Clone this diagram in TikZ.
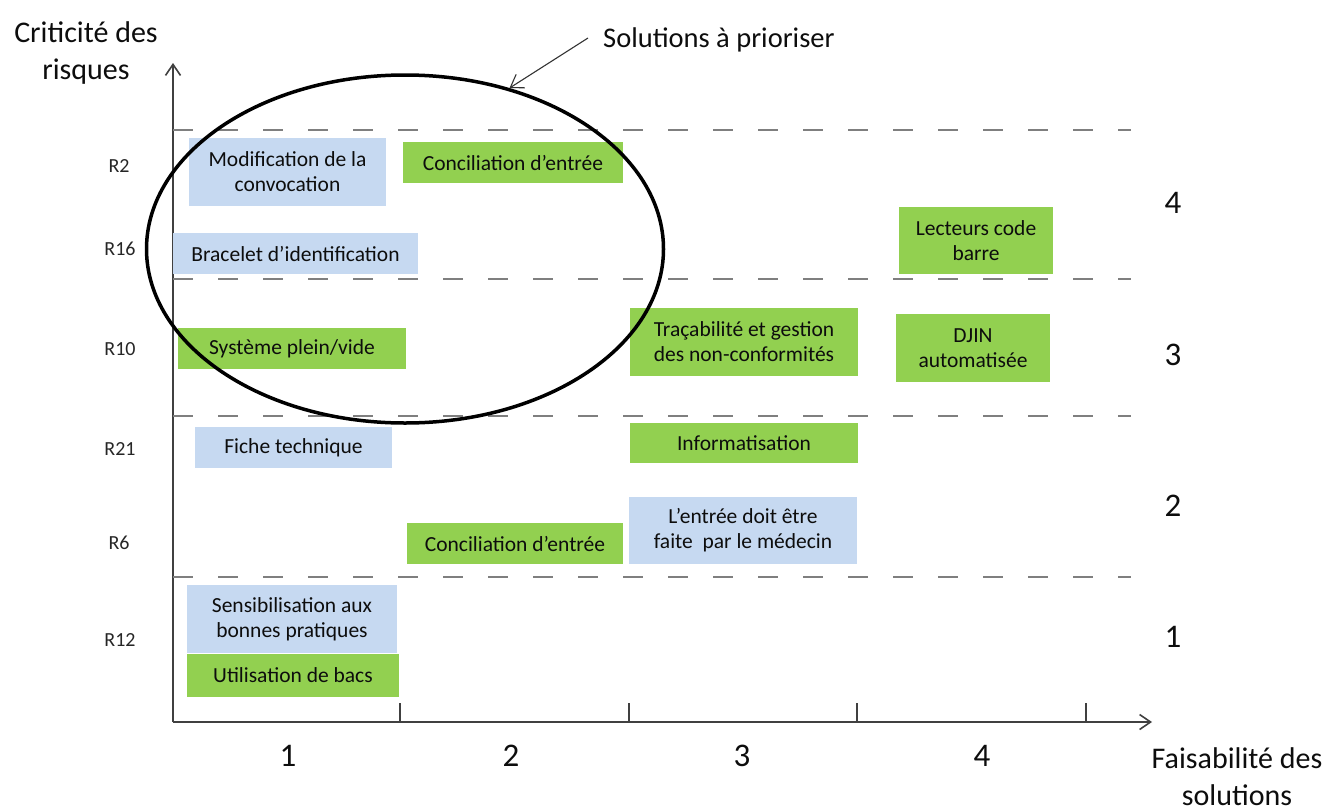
\documentclass[tikz,border=0pt]{standalone}
\usepackage{fontspec}
\setmainfont{Carlito}
\usetikzlibrary{arrows.meta,shapes.geometric}
\definecolor{boxblue}{HTML}{C6D9F1}
\definecolor{boxgreen}{HTML}{92D050}
\definecolor{levelgray}{HTML}{7F7F7F}
\definecolor{axisgray}{HTML}{404040}

\begin{document}
\begin{tikzpicture}[x=1pt,y=-1pt,
  solbox/.style={inner sep=0pt, align=center, text=black!95,
    font=\fontsize{21.5}{25}\selectfont},
  bluebox/.style={solbox, fill=boxblue},
  greenbox/.style={solbox, fill=boxgreen},
  rlab/.style={font=\fontsize{20}{24}\selectfont, text=black!85},
  grade/.style={font=\fontsize{33}{36}\selectfont, text=black!95},
  axistitle/.style={font=\fontsize{30}{37}\selectfont, align=center, text=black!95},
  levelline/.style={draw=levelgray, line width=2pt, dash pattern=on 20pt off 25pt},
  axisline/.style={draw=axisgray, line width=1.6pt},
  tickline/.style={draw=axisgray, line width=1.3pt},
  axistip/.style={-{Straight Barb[length=11pt,width=15pt]}}
]
\useasboundingbox (0,0) rectangle (1330,811);

% axes
\coordinate (O) at (173,722);
\coordinate (ytip) at (173,63);
\coordinate (xtip) at (1152,722);
\draw[axisline, axistip] (O) -- (ytip);
\draw[axisline, axistip] (O) -- (xtip);
\foreach \x in {400,629,857,1086} \draw[tickline] (\x,703) -- (\x,722);

% risk level separators
\foreach \y in {130,279,416,577} \draw[levelline] (173,\y) -- (1131,\y);

% axis titles
\node[axistitle] (ytitle) at (86,53) {Criticité des\\risques};
\node[axistitle] (xtitle) at (1237,777) {Faisabilité des\\solutions};

% risk identifiers
\node[rlab] (r2)  at (119,166) {R2};
\node[rlab] (r16) at (120,249) {R16};
\node[rlab] (r10) at (120,349) {R10};
\node[rlab] (r21) at (120,449) {R21};
\node[rlab] (r6)  at (119,543) {R6};
\node[rlab] (r12) at (120,640) {R12};

% criticity grades
\node[grade] (c4) at (1173,203) {4};
\node[grade] (c3) at (1173,355) {3};
\node[grade] (c2) at (1173,506) {2};
\node[grade] (c1) at (1173,637) {1};

% feasibility grades
\node[grade] (f1) at (288,756) {1};
\node[grade] (f2) at (511,756) {2};
\node[grade] (f3) at (742,756) {3};
\node[grade] (f4) at (982,756) {4};

% solutions
\node[bluebox,  minimum width=197, minimum height=68] (modif)    at (287.5,172)   {Modification de la\\convocation};
\node[greenbox, minimum width=220, minimum height=41] (concA)    at (513,162.5)   {Conciliation d’entrée};
\node[bluebox,  minimum width=245, minimum height=41] (bracelet) at (295.5,253.5) {Bracelet d’identification};
\node[greenbox, minimum width=154, minimum height=67] (lecteurs) at (976,240.5)   {Lecteurs code\\barre};
\node[greenbox, minimum width=228, minimum height=41] (systeme)  at (292,348.5)   {Système plein/vide};
\node[greenbox, minimum width=228, minimum height=68] (tracab)   at (744,342)     {Traçabilité et gestion\\des non-conformités};
\node[greenbox, minimum width=154, minimum height=68] (djin)     at (973,348)     {DJIN\\automatisée};
\node[bluebox,  minimum width=197, minimum height=41] (fiche)    at (293.5,447.5) {Fiche technique};
\node[greenbox, minimum width=228, minimum height=40] (info)     at (744,443)     {Informatisation};
\node[greenbox, minimum width=216, minimum height=41] (concB)    at (515,543.5)   {Conciliation d’entrée};
\node[bluebox,  minimum width=228, minimum height=67] (entree)   at (743,530.5)   {L’entrée doit être\\faite~ par le médecin};
\node[bluebox,  minimum width=210, minimum height=68] (sensib)   at (292,619)     {Sensibilisation aux\\bonnes pratiques};
\node[greenbox, minimum width=212, minimum height=43] (bacs)     at (293,675.5)   {Utilisation de bacs};

% priority zone
\node[draw, ellipse, line width=3.5pt, inner sep=0pt,
      minimum width=517, minimum height=348] (prio) at (405,249) {};
\node[anchor=base west, inner sep=0pt, text=black!95,
      font=\fontsize{28.5}{32}\selectfont] (soltxt) at (603,47) {Solutions à prioriser};
\coordinate (solstart) at (588,38);
\draw[line width=1.1pt, draw=black!80, -{Straight Barb[length=12pt,width=16pt]}]
  (solstart) -- (prio.57);
\end{tikzpicture}
\end{document}
